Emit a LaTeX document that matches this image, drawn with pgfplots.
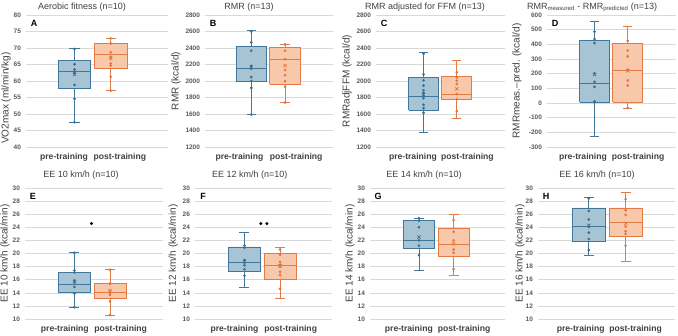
\documentclass[border=0pt]{standalone}
\usepackage{pgfplots}
\pgfplotsset{compat=1.18}
\usepackage{fontspec}
\setmainfont{Liberation Sans}
\definecolor{bedge}{HTML}{41779A}
\definecolor{bfill}{HTML}{A6C4D3}
\definecolor{bpt}{HTML}{3A6F90}
\definecolor{oedge}{HTML}{E27B45}
\definecolor{ofill}{HTML}{F8C8AA}
\definecolor{opt}{HTML}{E07540}
\definecolor{gridc}{HTML}{D9D9D9}
\definecolor{tickc}{HTML}{595959}
\definecolor{labc}{HTML}{404040}
\pgfplotsset{
  panel/.style={scale only axis, axis line style={draw=none}, major tick length=0pt,
    ymajorgrids, grid style={draw=gridc, line width=0.6pt},
    xticklabels={pre-training,post-training},
    x tick label style={font=\fontsize{8.6}{10}\selectfont\bfseries, text=labc, yshift=-3pt},
    y tick label style={font=\fontsize{6.5}{7}\selectfont\bfseries, text=tickc, xshift=-1.5pt},
    /pgf/number format/assume math mode=true, /pgf/number format/1000 sep={}},
  mytitle/.style n args={3}{title={#1}, every axis title/.style={at={(axis description cs:#2,1)}, anchor=center, yshift=#3, font=\fontsize{9}{10}\selectfont, text=labc}},
  myylabel/.style n args={3}{ylabel={#1}, every axis y label/.style={at={(axis description cs:#2,#3)}, rotate=90, anchor=center, font=\fontsize{10}{11}\selectfont, text=labc}},
}
% box: median, upper quartile, lower quartile, upper whisker, lower whisker
\newcommand{\bxb}[5]{%
\addplot[draw=bedge, fill=bfill, line width=0.8pt] coordinates {(-0.45,#3) (0.45,#3) (0.45,#2) (-0.45,#2) (-0.45,#3)};
\addplot[draw=bedge, line width=0.8pt] coordinates {(-0.45,#1) (0.45,#1)};
\addplot[draw=bedge, line width=0.8pt] coordinates {(0,#2) (0,#4)};
\addplot[draw=bedge, line width=0.8pt] coordinates {(0,#3) (0,#5)};
\addplot[draw=bedge, line width=0.8pt] coordinates {(-0.14,#4) (0.14,#4)};
\addplot[draw=bedge, line width=0.8pt] coordinates {(-0.14,#5) (0.14,#5)};}
\newcommand{\bxo}[5]{%
\addplot[draw=oedge, fill=ofill, line width=0.8pt] coordinates {(0.55,#3) (1.45,#3) (1.45,#2) (0.55,#2) (0.55,#3)};
\addplot[draw=oedge, line width=0.8pt] coordinates {(0.55,#1) (1.45,#1)};
\addplot[draw=oedge, line width=0.8pt] coordinates {(1,#2) (1,#4)};
\addplot[draw=oedge, line width=0.8pt] coordinates {(1,#3) (1,#5)};
\addplot[draw=oedge, line width=0.8pt] coordinates {(0.86,#4) (1.14,#4)};
\addplot[draw=oedge, line width=0.8pt] coordinates {(0.86,#5) (1.14,#5)};}
\newcommand{\pts}[2]{\addplot[only marks, mark=*, mark size=1.15pt, color=#1pt, fill=#1pt] coordinates {#2};}
\newcommand{\mn}[2]{\addplot[only marks, mark=x, mark size=2.3pt, line width=0.7pt, color=#1pt] coordinates {#2};}
\newcommand{\lett}[1]{\node[font=\fontsize{9}{10}\selectfont\bfseries, anchor=center, xshift=8pt, yshift=-8pt] at (rel axis cs:0,1) {#1};}
\begin{document}
\begin{tikzpicture}
\useasboundingbox (0,0) rectangle (678pt,335pt);
% A
\begin{axis}[panel, at={(26pt,188pt)}, anchor=south west, width=142pt, height=132pt,
  xmin=-1.34, xmax=2.58, ymin=40, ymax=80, ytick distance=5, xtick={-0.29,1.25},
  mytitle={Aerobic fitness (n=10)}{0.394}{8pt}, myylabel={VO2max (ml/min/kg)}{-0.141}{0.37}]
\bxb{63.0}{66.3}{57.7}{69.9}{47.4}
\bxo{68.1}{71.4}{63.8}{72.9}{57.1}
\pts{b}{(0,69.7) (0,65.1) (0,63.5) (0,62.9) (0,62.4) (0,58.8) (0,54.6) (0,47.5)}
\pts{o}{(1,72.9) (1,71.4) (1,68.7) (1,67.3) (1,65.3) (1,64.7) (1,61.3) (1,57.1)}
\mn{b}{(0,62.0)}
\mn{o}{(1,66.8)}
\lett{A}
\end{axis}
% B
\begin{axis}[panel, at={(205pt,188pt)}, anchor=south west, width=128pt, height=132pt,
  xmin=-1.37, xmax=2.42, ymin=1200, ymax=2800, ytick distance=200, xtick={-0.35,1.33},
  mytitle={RMR (n=13)}{0.344}{8pt}, myylabel={RMR (kcal/d)}{-0.227}{0.5}]
\bxb{2148}{2415}{1998}{2610}{1593}
\bxo{2257}{2407}{1962}{2448}{1739}
\pts{b}{(0,2600) (0,2468) (0,2367) (0,2184) (0,2150) (0,2047) (0,2000) (0,1917) (0,1593)}
\pts{o}{(1,2444) (1,2367) (1,2265) (1,2132) (1,2071) (1,1998) (1,1929) (1,1739)}
\mn{b}{(0,2165)}
\mn{o}{(1,2188)}
\lett{B}
\end{axis}
% C
\begin{axis}[panel, at={(376pt,188pt)}, anchor=south west, width=129pt, height=132pt,
  xmin=-1.43, xmax=2.45, ymin=1200, ymax=2800, ytick distance=200, xtick={-0.32,1.32},
  mytitle={RMR adjusted for FFM (n=13)}{0.38}{8pt}, myylabel={RMRadjFFM (kcal/d)}{-0.225}{0.5}]
\bxb{1815}{2040}{1646}{2350}{1372}
\bxo{1835}{2060}{1771}{2249}{1546}
\pts{b}{(0,2330) (0,2080) (0,2008) (0,1944) (0,1888) (0,1856) (0,1815) (0,1791) (0,1711) (0,1670) (0,1614)}
\pts{o}{(1,2105) (1,2044) (1,2004) (1,1964) (1,1843) (1,1779) (1,1634)}
\mn{b}{(0,1835)}
\mn{o}{(1,1904)}
\lett{C}
\end{axis}
% D
\begin{axis}[panel, at={(547pt,188pt)}, anchor=south west, width=129pt, height=132pt,
  xmin=-1.43, xmax=2.45, ymin=-300, ymax=600, ytick distance=100, xtick={-0.35,1.31},
  mytitle={RMR\textsubscript{measured} - RMR\textsubscript{predicted} (n=13)}{0.35}{8pt}, myylabel={RMRmeas.–pred. (kcal/d)}{-0.233}{0.5}]
\bxb{133}{429}{5}{559}{-229}
\bxo{224}{406}{7}{520}{-38}
\pts{b}{(0,486) (0,436) (0,409) (0,201) (0,144) (0,110) (0,12) (0,5)}
\pts{o}{(1,424) (1,358) (1,318) (1,226) (1,154) (1,119) (1,-34)}
\mn{b}{(0,195)}
\mn{o}{(1,220)}
\lett{D}
\end{axis}
% E
\begin{axis}[panel, at={(25pt,16pt)}, anchor=south west, width=138pt, height=131pt,
  xmin=-1.39, xmax=2.49, ymin=10, ymax=30, ytick distance=2, xtick={-0.27,1.30},
  mytitle={EE 10 km/h (n=10)}{0.406}{13pt}, myylabel={EE 10 km/h (kcal/min)}{-0.145}{0.5}]
\bxb{15.33}{17.15}{14.06}{20.1}{11.8}
\bxo{14.1}{15.48}{13.1}{17.56}{10.6}
\pts{b}{(0,17.4) (0,17.1) (0,15.9) (0,15.6) (0,14.9) (0,13.9) (0,20.1) (0,11.8)}
\pts{o}{(1,15.4) (1,14.3) (1,14.0) (1,13.7) (1,12.7) (1,17.5) (1,10.6)}
\mn{b}{(0,15.7)}
\mn{o}{(1,14.3)}
\addplot[only marks, mark=*, mark size=1.3pt, black] coordinates {(0.48,24.57)};
\lett{E}
\end{axis}
% F
\begin{axis}[panel, at={(195pt,16pt)}, anchor=south west, width=137pt, height=131pt,
  xmin=-1.39, xmax=2.46, ymin=10, ymax=30, ytick distance=2, xtick={-0.28,1.30},
  mytitle={EE 12 km/h (n=10)}{0.40}{13pt}, myylabel={EE 12 km/h (kcal/min)}{-0.158}{0.5}]
\bxb{18.6}{21.0}{17.3}{23.15}{14.8}
\bxo{18.2}{20.0}{16.1}{20.9}{13.15}
\pts{b}{(0,21.2) (0,20.9) (0,19.0) (0,18.6) (0,18.2) (0,17.6) (0,16.6)}
\pts{o}{(1,20.6) (1,19.8) (1,18.7) (1,18.3) (1,18.0) (1,17.2) (1,16.7) (1,14.6)}
\mn{b}{(0,18.8)}
\mn{o}{(1,18.1)}
\addplot[only marks, mark=*, mark size=1.3pt, black] coordinates {(0.46,24.57) (0.63,24.57)};
\lett{F}
\end{axis}
% G
\begin{axis}[panel, at={(370pt,16pt)}, anchor=south west, width=135pt, height=131pt,
  xmin=-1.41, xmax=2.48, ymin=10, ymax=30, ytick distance=2, xtick={-0.29,1.30},
  mytitle={EE 14 km/h (n=10)}{0.40}{13pt}, myylabel={EE 14 km/h (kcal/min)}{-0.148}{0.5}]
\bxb{22.0}{25.0}{20.76}{25.4}{17.36}
\bxo{21.4}{23.8}{19.5}{25.9}{16.65}
\pts{b}{(0,25.4) (0,25.0) (0,24.0) (0,22.0) (0,21.2) (0,19.75)}
\pts{o}{(1,25.1) (1,23.3) (1,22.0) (1,20.6) (1,20.1) (1,17.6)}
\mn{b}{(0,22.5)}
\mn{o}{(1,21.5)}
\lett{G}
\end{axis}
% H
\begin{axis}[panel, at={(538pt,16pt)}, anchor=south west, width=137pt, height=131pt,
  xmin=-1.38, xmax=2.34, ymin=10, ymax=30, ytick distance=2, xtick={-0.22,1.27},
  mytitle={EE 16 km/h (n=10)}{0.43}{13pt}, myylabel={EE 16 km/h (kcal/min)}{-0.131}{0.5}]
\bxb{24.1}{26.95}{21.8}{28.6}{19.65}
\bxo{24.7}{26.95}{22.6}{29.3}{18.8}
\pts{b}{(0,28.4) (0,26.5) (0,25.2) (0,24.06) (0,23.2) (0,22.2) (0,20.5)}
\pts{o}{(1,28.3) (1,26.6) (1,25.9) (1,24.1) (1,23.4) (1,23.0) (1,21.2)}
\mn{b}{(0,24.3)}
\mn{o}{(1,24.6)}
\lett{H}
\end{axis}
\end{tikzpicture}
\end{document}
